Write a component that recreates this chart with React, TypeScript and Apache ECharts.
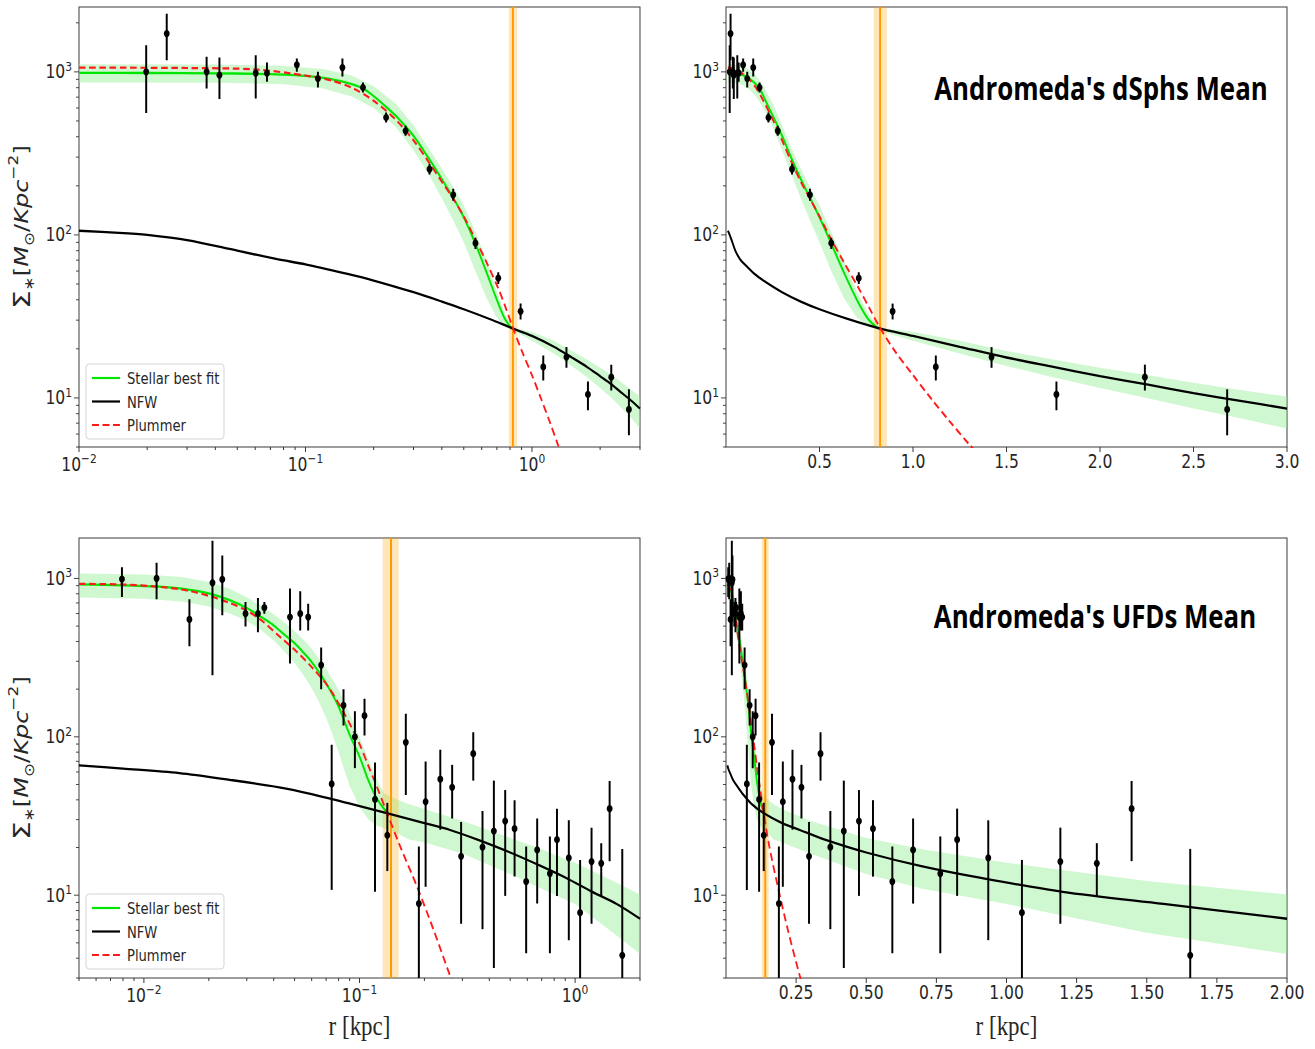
import React, { useEffect, useRef } from 'react';
import * as echarts from 'echarts';

// ---------------- Andromeda's dSphs mean (top panels) ----------------
// data points: [r (kpc), Sigma, lower error, upper error]
const dsphPoints = [
  [0.0198, 1000, 559, 1456],
  [0.0244, 1718, 1179, 2276],
  [0.0366, 1000, 790, 1236],
  [0.0417, 954, 681, 1224],
  [0.0603, 981, 687, 1265],
  [0.0676, 981, 869, 1140],
  [0.0916, 1104, 1000, 1207],
  [0.1135, 910, 802, 1000],
  [0.1456, 1063, 937, 1207],
  [0.1794, 802, 747, 861],
  [0.227, 525, 489, 564],
  [0.2767, 435, 405, 468],
  [0.353, 253, 235, 272],
  [0.449, 176, 162, 192],
  [0.563, 88.9, 82, 96],
  [0.71, 54.3, 50, 59],
  [0.891, 34.0, 30.3, 37.9],
  [1.122, 15.5, 12.8, 18.2],
  [1.42, 17.8, 15.3, 20.5],
  [1.767, 10.5, 8.4, 12.6],
  [2.24, 13.4, 11.1, 16.0],
  [2.68, 8.5, 5.9, 11.3],
];
const dsphStellar = [
  [0.01, 985], [0.02, 984], [0.04, 980], [0.06, 973], [0.08, 962], [0.1, 945], [0.12, 918],
  [0.15, 862], [0.18, 790], [0.2, 710], [0.23, 600], [0.26, 510], [0.3, 405], [0.35, 295],
  [0.4, 220], [0.45, 168], [0.5, 128], [0.56, 90], [0.63, 59], [0.7, 40], [0.76, 30.5], [0.815, 26.6],
];
const dsphNFW = [
  [0.01, 106], [0.015, 103], [0.02, 100], [0.03, 93], [0.05, 80], [0.075, 71], [0.1, 66],
  [0.15, 58], [0.2, 52.5], [0.3, 44.5], [0.4, 39], [0.5, 35], [0.65, 30.5], [0.815, 26.8],
  [1.0, 24], [1.25, 20.6], [1.5, 17.7], [1.75, 15.5], [2.0, 13.6], [2.25, 12.1], [2.5, 10.7],
  [2.75, 9.6], [3.0, 8.6],
];
const dsphPlummer = [
  [0.01, 1062], [0.03, 1056], [0.06, 1035], [0.1, 950], [0.13, 885], [0.16, 800], [0.2, 665],
  [0.25, 510], [0.3, 380], [0.35, 280], [0.4, 212], [0.45, 166], [0.5, 130], [0.56, 95],
  [0.63, 68], [0.71, 47], [0.77, 35], [0.815, 28], [0.9, 19.6], [1.0, 13.8], [1.1, 9.8],
  [1.2, 7.1], [1.3, 5.2], [1.4, 3.9],
];
const dsphBandUpper = [
  [0.01, 1112], [0.04, 1108], [0.08, 1090], [0.12, 1040], [0.16, 950], [0.2, 815], [0.25, 640],
  [0.3, 470], [0.35, 340], [0.4, 255], [0.45, 196], [0.5, 152], [0.56, 106], [0.63, 70],
  [0.7, 45], [0.76, 33], [0.815, 27.5], [0.86, 26.6], [1.0, 25.5], [1.25, 22.4], [1.5, 19.4],
  [1.75, 17.2], [2.0, 15.3], [2.25, 13.8], [2.5, 12.4], [2.75, 11.2], [3.0, 10.2],
];
const dsphBandLower = [
  [0.01, 862], [0.04, 858], [0.08, 840], [0.12, 790], [0.16, 705], [0.2, 600], [0.25, 460],
  [0.3, 330], [0.35, 235], [0.4, 168], [0.45, 122], [0.5, 90], [0.56, 61], [0.63, 41],
  [0.7, 31], [0.76, 27.5], [0.815, 26], [0.86, 25], [1.0, 22.4], [1.25, 18.7], [1.5, 15.7],
  [1.75, 13.4], [2.0, 11.5], [2.25, 10], [2.5, 8.6], [2.75, 7.5], [3.0, 6.5],
];
// [band start, band end, radius] (kpc)
const dsphRadius = [0.79, 0.86, 0.824];

// ---------------- Andromeda's UFDs mean (bottom panels) ----------------
const ufdPoints = [
  [0.00791, 990, 764, 1175],
  [0.01145, 1000, 739, 1258],
  [0.01626, 551, 373, 739],
  [0.0208, 939, 245, 1729],
  [0.0231, 986, 585, 1394],
  [0.0296, 599, 498, 711],
  [0.0338, 599, 458, 753],
  [0.0362, 654, 599, 711],
  [0.0476, 570, 290, 863],
  [0.0531, 599, 469, 831],
  [0.0578, 570, 469, 693],
  [0.0664, 284, 200, 367],
  [0.0743, 50.4, 10.8, 89],
  [0.0843, 158, 118, 200],
  [0.0952, 100, 63.4, 145],
  [0.1055, 136, 102, 174],
  [0.118, 40.2, 10.5, 68.8],
  [0.1346, 23.9, 14.2, 38.3],
  [0.164, 92.3, 42.9, 140],
  [0.1885, 8.85, 1, 20.3],
  [0.2026, 38.9, 11.3, 69.8],
  [0.237, 54, 25.9, 82.8],
  [0.269, 48, 30.5, 66.5],
  [0.296, 17.6, 6.6, 29],
  [0.337, 78.2, 52.9, 107],
  [0.372, 20.1, 6.1, 34],
  [0.42, 25.4, 3.47, 52.9],
  [0.474, 29.4, 9.9, 46.1],
  [0.524, 26.3, 13.1, 39.8],
  [0.593, 12.2, 4.3, 20.3],
  [0.667, 19.3, 8.85, 30.5],
  [0.764, 13.7, 4.3, 23.5],
  [0.824, 22.4, 9.9, 35.2],
  [0.935, 17.2, 5.2, 29.7],
  [1.055, 7.76, 1, 16.7],
  [1.192, 16.3, 6.6, 26.7],
  [1.322, 15.9, 9.9, 21.3],
  [1.446, 35.2, 16.4, 52.6],
  [1.655, 4.17, 1, 19.6],
];
const ufdStellar = [
  [0.005, 916], [0.008, 905], [0.0118, 887], [0.015, 862], [0.02, 805], [0.025, 730],
  [0.03, 650], [0.035, 570], [0.04, 505], [0.045, 440], [0.05, 390], [0.055, 340], [0.06, 297],
  [0.065, 255], [0.07, 218], [0.08, 155], [0.09, 103], [0.1, 75], [0.11, 53], [0.12, 41],
  [0.1337, 33.3],
];
const ufdNFW = [
  [0.005, 66], [0.008, 63], [0.0146, 59], [0.025, 53.5], [0.0424, 48], [0.06, 43.5],
  [0.0904, 37.8], [0.1337, 33], [0.2, 28.5], [0.263, 25.8], [0.35, 22.5], [0.5, 18.6],
  [0.7, 15.2], [0.914, 12.8], [1.2, 10.5], [1.56, 8.8], [2.0, 7.1],
];
const ufdPlummer = [
  [0.005, 925], [0.008, 915], [0.0118, 885], [0.016, 838], [0.0207, 766], [0.025, 700],
  [0.0297, 631], [0.035, 545], [0.0424, 432], [0.05, 355], [0.0604, 273], [0.0722, 204],
  [0.0863, 135], [0.1, 90], [0.1107, 64], [0.12, 49], [0.1337, 33.5], [0.154, 20.5],
  [0.184, 11.5], [0.22, 6.1], [0.263, 3.1], [0.28, 2.5],
];
const ufdBandUpper = [
  [0.005, 1075], [0.01, 1060], [0.015, 1020], [0.02, 950], [0.025, 860], [0.03, 760],
  [0.035, 670], [0.04, 595], [0.045, 525], [0.05, 465], [0.055, 410], [0.06, 360], [0.07, 270],
  [0.08, 198], [0.09, 140], [0.1, 100], [0.11, 72], [0.12, 54], [0.13, 44], [0.15, 40],
  [0.17, 37.5], [0.2, 35], [0.3, 29.5], [0.5, 23], [0.7, 19.5], [1.0, 16], [1.5, 12.3], [2.0, 10.1],
];
const ufdBandLower = [
  [0.005, 758], [0.01, 745], [0.015, 715], [0.02, 665], [0.025, 600], [0.03, 540],
  [0.035, 470], [0.04, 405], [0.045, 345], [0.05, 292], [0.055, 245], [0.06, 203], [0.065, 165],
  [0.07, 132], [0.075, 103], [0.08, 80], [0.085, 62], [0.09, 49], [0.1, 36], [0.11, 30],
  [0.12, 27.5], [0.13, 26.5], [0.15, 24.5], [0.17, 22.5], [0.2, 21.5], [0.3, 18.3],
  [0.5, 13.6], [0.7, 11], [1.0, 8.8], [1.5, 5.8], [2.0, 4.25],
];
const ufdRadius = [0.128, 0.152, 0.14];

// ---------------- ticks ----------------
const topLogXMajor = [0.01, 0.1, 1];
const topLogXMinor = [0.02, 0.03, 0.04, 0.05, 0.06, 0.07, 0.08, 0.09, 0.2, 0.3, 0.4, 0.5, 0.6, 0.7, 0.8, 0.9, 2, 3];
const bottomLogXMajor = [0.01, 0.1, 1];
const bottomLogXMinor = [0.005, 0.006, 0.007, 0.008, 0.009, 0.02, 0.03, 0.04, 0.05, 0.06, 0.07, 0.08, 0.09,
  0.2, 0.3, 0.4, 0.5, 0.6, 0.7, 0.8, 0.9, 2];
const topLinXTicks = [0.5, 1, 1.5, 2, 2.5, 3];
const bottomLinXTicks = [0.25, 0.5, 0.75, 1, 1.25, 1.5, 1.75, 2];
const yMajorTicks = [10, 100, 1000];
const topYMinor = [5, 6, 7, 8, 9, 20, 30, 40, 50, 60, 70, 80, 90, 200, 300, 400, 500, 600, 700, 800, 900, 2000];
const bottomYMinor = [3, 4, 5, 6, 7, 8, 9, 20, 30, 40, 50, 60, 70, 80, 90, 200, 300, 400, 500, 600, 700, 800, 900];

const legendRows = [
  { name: 'Stellar best fit', color: '#00e600', dash: null as any },
  { name: 'NFW', color: '#000000', dash: null as any },
  { name: 'Plummer', color: '#ff1a1a', dash: [8.5, 4.3] },
];

// ---------------- layout helpers ----------------
const S = 0.82; // horizontal squeeze of the original figure
const X = (v: number) => v / S;
const CW = Math.round(1315 / S);
const CH = 1049;
const FONT = '"DejaVu Sans", Verdana, sans-serif';
const INK = '#262626';
const GREEN = '#00e600';
const RED = '#ff1a1a';

function pow10Label(v: number) {
  const l = Math.log10(v);
  const e = Math.round(l);
  if (Math.abs(l - e) > 1e-6) return '';
  return `{b|10}{e|${e < 0 ? '\u2212' + -e : e}}`;
}
const powRich = {
  b: { fontSize: 19, fontFamily: FONT, color: INK, lineHeight: 24 },
  e: { fontSize: 13, fontFamily: FONT, color: INK, lineHeight: 13, verticalAlign: 'top' },
};
const yName = '{s|\u03a3}{u|\u2217}{n|[}{i|M}{u|\u2299}{n|/}{i|Kpc}{p|\u22122}{n|]}';
const yNameRich = {
  s: { fontSize: 29, fontFamily: FONT, color: INK, lineHeight: 36 },
  u: { fontSize: 17, fontFamily: FONT, color: INK, lineHeight: 17, verticalAlign: 'bottom' },
  n: { fontSize: 24, fontFamily: FONT, color: INK, lineHeight: 36 },
  i: { fontSize: 24, fontFamily: FONT, fontStyle: 'italic', color: INK, lineHeight: 36 },
  p: { fontSize: 17, fontFamily: FONT, color: INK, lineHeight: 17, verticalAlign: 'top' },
};

const panels = [
  {
    left: 79, top: 7, xType: 'log', xMin: 0.01, xMax: 3, yMin: 5, yMax: 2500,
    points: dsphPoints, stellar: dsphStellar, nfw: dsphNFW, plummer: dsphPlummer,
    upper: dsphBandUpper, lower: dsphBandLower, radius: dsphRadius,
    xMajor: topLogXMajor, xMinor: topLogXMinor, yMinor: topYMinor, showYName: true, showXName: false,
  },
  {
    left: 726, top: 7, xType: 'value', xMin: 0, xMax: 3, xInterval: 0.5, xDigits: 1, yMin: 5, yMax: 2500,
    points: dsphPoints, stellar: dsphStellar, nfw: dsphNFW, plummer: dsphPlummer,
    upper: dsphBandUpper, lower: dsphBandLower, radius: dsphRadius,
    xMajor: topLinXTicks, xMinor: [], yMinor: topYMinor, showYName: false, showXName: false,
  },
  {
    left: 79, top: 538, xType: 'log', xMin: 0.005, xMax: 2, yMin: 3, yMax: 1800,
    points: ufdPoints, stellar: ufdStellar, nfw: ufdNFW, plummer: ufdPlummer,
    upper: ufdBandUpper, lower: ufdBandLower, radius: ufdRadius,
    xMajor: bottomLogXMajor, xMinor: bottomLogXMinor, yMinor: bottomYMinor, showYName: true, showXName: true,
  },
  {
    left: 726, top: 538, xType: 'value', xMin: 0, xMax: 2, xInterval: 0.25, xDigits: 2, yMin: 3, yMax: 1800,
    points: ufdPoints, stellar: ufdStellar, nfw: ufdNFW, plummer: ufdPlummer,
    upper: ufdBandUpper, lower: ufdBandLower, radius: ufdRadius,
    xMajor: bottomLinXTicks, xMinor: [], yMinor: bottomYMinor, showYName: false, showXName: true,
  },
];

function buildOption() {
  const grid: any[] = [];
  const xAxis: any[] = [];
  const yAxis: any[] = [];
  const series: any[] = [];

  panels.forEach((p: any, i) => {
    grid.push({
      left: X(p.left), top: p.top, width: X(561), height: 440,
      show: true, borderColor: '#3a3a3a', borderWidth: 1.2, backgroundColor: 'transparent',
      containLabel: false, outerBoundsMode: 'none',
    });
    const xa: any = {
      gridIndex: i, type: p.xType, min: p.xMin, max: p.xMax,
      axisLine: { show: false }, axisTick: { show: false }, splitLine: { show: false },
      minorTick: { show: false }, minorSplitLine: { show: false },
      axisLabel: {
        margin: 5, fontFamily: FONT, fontSize: 19, color: INK, showMinLabel: true, showMaxLabel: true,
        formatter: p.xType === 'log' ? pow10Label : (v: number) => (v === 0 ? '' : v.toFixed(p.xDigits)),
        rich: powRich,
      },
      name: p.showXName ? 'r [kpc]' : '', nameLocation: 'middle', nameGap: 34,
      nameTextStyle: { fontFamily: '"Liberation Serif", "Times New Roman", serif', fontSize: 28, color: INK },
    };
    if (p.xType === 'log') xa.logBase = 10; else xa.interval = p.xInterval;
    xAxis.push(xa);
    yAxis.push({
      gridIndex: i, type: 'log', logBase: 10, min: p.yMin, max: p.yMax,
      axisLine: { show: false }, axisTick: { show: false }, splitLine: { show: false },
      minorTick: { show: false }, minorSplitLine: { show: false },
      axisLabel: { margin: 8.5, fontFamily: FONT, fontSize: 19, color: INK, formatter: pow10Label, rich: powRich, showMinLabel: true, showMaxLabel: true },
      name: p.showYName ? yName : '', nameLocation: 'middle', nameRotate: 90, nameGap: 52,
      nameTextStyle: { rich: yNameRich },
    });

    const base = { xAxisIndex: i, yAxisIndex: i };
    // uncertainty band
    series.push({
      ...base, type: 'custom', name: 'band', z: 1, clip: true, silent: true, data: p.upper,
      renderItem: (params: any, api: any) => {
        if (params.dataIndex !== 0) return null;
        const pts = p.upper.map((d: number[]) => api.coord(d))
          .concat(p.lower.slice().reverse().map((d: number[]) => api.coord(d)));
        return { type: 'polygon', shape: { points: pts }, style: { fill: 'rgba(144,238,144,0.42)' } };
      },
    });
    // half-light radius marker
    series.push({
      ...base, type: 'custom', name: 'radius', z: 2, clip: true, silent: true, data: [p.radius],
      renderItem: (params: any, api: any) => {
        const cs = params.coordSys;
        const a = api.coord([api.value(0), p.yMin]);
        const b = api.coord([api.value(1), p.yMin]);
        const c = api.coord([api.value(2), p.yMin]);
        return {
          type: 'group', children: [
            { type: 'rect', shape: { x: a[0], y: cs.y, width: b[0] - a[0], height: cs.height }, style: { fill: 'rgba(255,165,0,0.28)' } },
            { type: 'line', shape: { x1: c[0], y1: cs.y, x2: c[0], y2: cs.y + cs.height }, style: { stroke: '#ff9a00', lineWidth: 2.4 } },
          ],
        };
      },
    });
    series.push({
      ...base, type: 'line', name: 'Stellar best fit', z: 3, data: p.stellar, symbol: 'none', showSymbol: false,
      smooth: 0.3, lineStyle: { color: GREEN, width: 2.3 }, itemStyle: { color: GREEN }, silent: true,
    });
    series.push({
      ...base, type: 'line', name: 'NFW', z: 3, data: p.nfw, symbol: 'none', showSymbol: false,
      smooth: 0.3, lineStyle: { color: '#000', width: 2.3 }, itemStyle: { color: '#000' }, silent: true,
    });
    series.push({
      ...base, type: 'line', name: 'Plummer', z: 4, data: p.plummer, symbol: 'none', showSymbol: false,
      smooth: 0.3, lineStyle: { color: RED, width: 2.2, type: [8, 4.5] }, itemStyle: { color: RED }, silent: true,
    });
    // data points with error bars
    series.push({
      ...base, type: 'custom', name: 'data', z: 5, clip: true, silent: true, data: p.points,
      renderItem: (params: any, api: any) => {
        const x = api.value(0);
        const c = api.coord([x, api.value(1)]);
        const lo = api.coord([x, api.value(2)]);
        const hi = api.coord([x, api.value(3)]);
        return {
          type: 'group', children: [
            { type: 'line', shape: { x1: c[0], y1: lo[1], x2: c[0], y2: hi[1] }, style: { stroke: '#000', lineWidth: 2.4 } },
            { type: 'circle', shape: { cx: c[0], cy: c[1], r: 3.6 }, style: { fill: '#000' } },
          ],
        };
      },
    });
    // x ticks
    const xt = p.xMajor.map((v: number) => [v, p.yMin, 5]).concat(p.xMinor.map((v: number) => [v, p.yMin, 3]));
    series.push({
      ...base, type: 'custom', name: 'xticks', z: 6, clip: false, silent: true, data: xt,
      renderItem: (params: any, api: any) => {
        const c = api.coord([api.value(0), api.value(1)]);
        return { type: 'line', shape: { x1: c[0], y1: c[1], x2: c[0], y2: c[1] + api.value(2) }, style: { stroke: '#333', lineWidth: 1.2 } };
      },
    });
    const yt = yMajorTicks.map((v) => [p.xMin, v, 5]).concat(p.yMinor.map((v: number) => [p.xMin, v, 3]));
    series.push({
      ...base, type: 'custom', name: 'yticks', z: 6, clip: false, silent: true, data: yt,
      renderItem: (params: any, api: any) => {
        const c = api.coord([api.value(0), api.value(1)]);
        return { type: 'line', shape: { x1: c[0] - X(api.value(2)), y1: c[1], x2: c[0], y2: c[1] }, style: { stroke: '#333', lineWidth: 1 } };
      },
    });
  });

  const legendGroup = (top: number) => ({
    type: 'group', x: X(86), y: top, z: 100,
    children: [
      { type: 'rect', z: 100, shape: { x: 0, y: 0, width: X(138), height: 75, r: 4 }, style: { fill: '#fff', stroke: '#d4d4d4', lineWidth: 1.2 } },
      ...legendRows.flatMap((r, k) => [
        {
          type: 'line', z: 101, shape: { x1: X(6), y1: 14 + k * 23.5, x2: X(34), y2: 14 + k * 23.5 },
          style: { stroke: r.color, lineWidth: 2.2, lineDash: r.dash || null },
        },
        {
          type: 'text', z: 101, x: X(41), y: 14 + k * 23.5,
          style: { text: r.name, fill: INK, fontSize: 16, fontFamily: FONT, textAlign: 'left', textVerticalAlign: 'middle' },
        },
      ]),
    ],
  });

  const title = (text: string, cx: number, cy: number) => ({
    type: 'text', z: 100, x: X(cx), y: cy,
    style: { text, fill: '#000', fontSize: 31.5, fontWeight: 'bold', fontFamily: '"Open Sans", "DejaVu Sans", sans-serif', textAlign: 'center', textVerticalAlign: 'middle' },
  });

  return {
    animation: false,
    backgroundColor: '#fff',
    grid, xAxis, yAxis, series,
    graphic: [
      legendGroup(364),
      legendGroup(894),
      title("Andromeda's dSphs Mean", 1101, 87),
      title("Andromeda's UFDs Mean", 1095, 615),
    ],
  };
}

export default function App() {
  const ref = useRef<HTMLDivElement>(null);
  useEffect(() => {
    const chart = echarts.init(ref.current as HTMLDivElement, null, { renderer: 'svg' });
    chart.setOption(buildOption() as any);
    return () => chart.dispose();
  }, []);
  return (
    <div style={{ position: 'fixed', left: 0, top: 0, width: 1315, height: 1049, overflow: 'hidden', background: '#fff' }}>
      <div ref={ref} style={{ width: CW, height: CH, transform: `scaleX(${S})`, transformOrigin: '0 0' }} />
    </div>
  );
}
